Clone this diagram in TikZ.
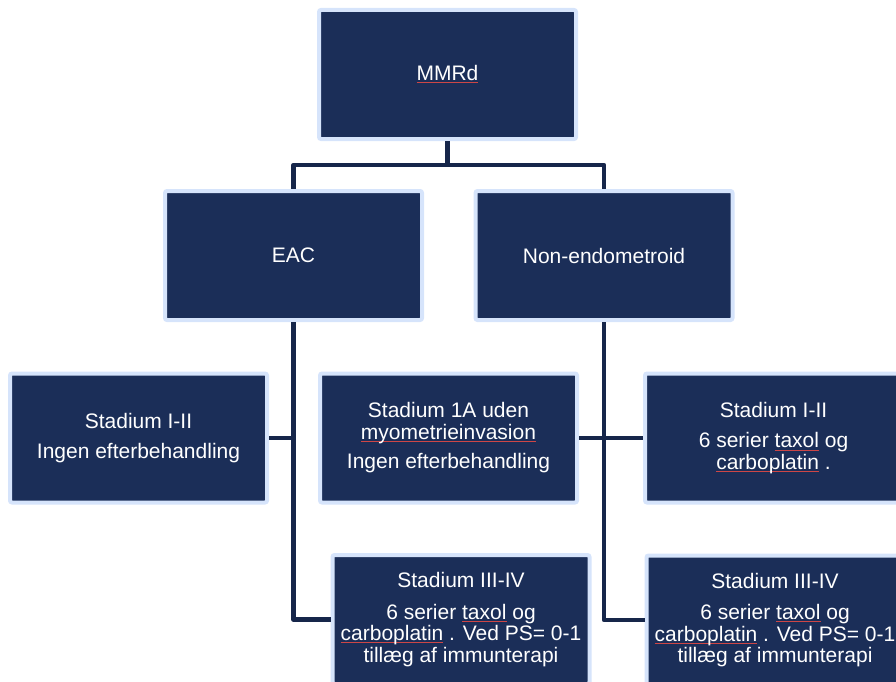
\documentclass[tikz,border=0pt]{standalone}
\usepackage{fontspec}
\setmainfont{Liberation Sans}
\definecolor{boxfill}{RGB}{27,46,88}
\definecolor{boxline}{RGB}{214,228,251}
\definecolor{connline}{RGB}{22,38,74}
\definecolor{spellred}{RGB}{205,70,70}
\newcommand{\spelling}[1]{\setbox0\hbox{#1}\rlap{\textcolor{spellred}{\rule[-2.6pt]{\wd0}{1pt}}}\box0\relax}

\tikzset{stage/.style={draw=boxline,line width=4pt,fill=boxfill,text=white,rounded corners=2pt,
    minimum width=257pt,minimum height=129pt,inner sep=0pt,align=center,
    font=\fontsize{21}{21.5}\selectfont}}
\tikzset{conn/.style={draw=connline,line width=4.5pt,line join=round}}

\begin{document}
\begin{tikzpicture}[x=1pt,y=-1pt]
    \useasboundingbox (0,0) rectangle (896,682);
    \clip (0,0) rectangle (896,682);
    \node[stage] (mmrd)    at (447.5,74.5)  {\spelling{MMRd}};
    \node[stage] (eac)     at (293.5,255.5) {EAC};
    \node[stage] (nonendo) at (604,255.5)   {Non-endometroid};
    \node[stage] (eacI)    at (138.5,438)   {Stadium I-II\\[9pt] Ingen efterbehandling};
    \node[stage] (nonIA)   at (448.5,438)   {Stadium 1A uden\\ \spelling{myometrieinvasion}\\[8pt] Ingen efterbehandling};
    \node[stage] (nonI)    at (773.5,438)   {Stadium I-II\\[9pt] 6 serier \spelling{taxol} og\\ \spelling{carboplatin} .};
    \node[stage] (eacIII)  at (461,619.5)   {Stadium III-IV\\[10pt] 6 serier \spelling{taxol} og\\ \spelling{carboplatin} . Ved PS= 0-1\\ tillæg af immunterapi};
    \node[stage] (nonIII)  at (775,620)     {Stadium III-IV\\[10pt] 6 serier \spelling{taxol} og\\ \spelling{carboplatin} . Ved PS= 0-1\\ tillæg af immunterapi};
    % top level
    \draw[conn] (mmrd.south) -- ++(0,24) -| (eac.north);
    \draw[conn] (mmrd.south) -- ++(0,24) -| (nonendo.north);
    % EAC branch
    \draw[conn] (eac.south) |- (eacIII.west);
    \draw[conn] (eacI.east) -- (eacI.east -| eac.south);
    % non-endometroid branch
    \draw[conn] (nonendo.south) |- (nonIII.west);
    \draw[conn] (nonIA.east) -- (nonI.west);
\end{tikzpicture}
\end{document}
